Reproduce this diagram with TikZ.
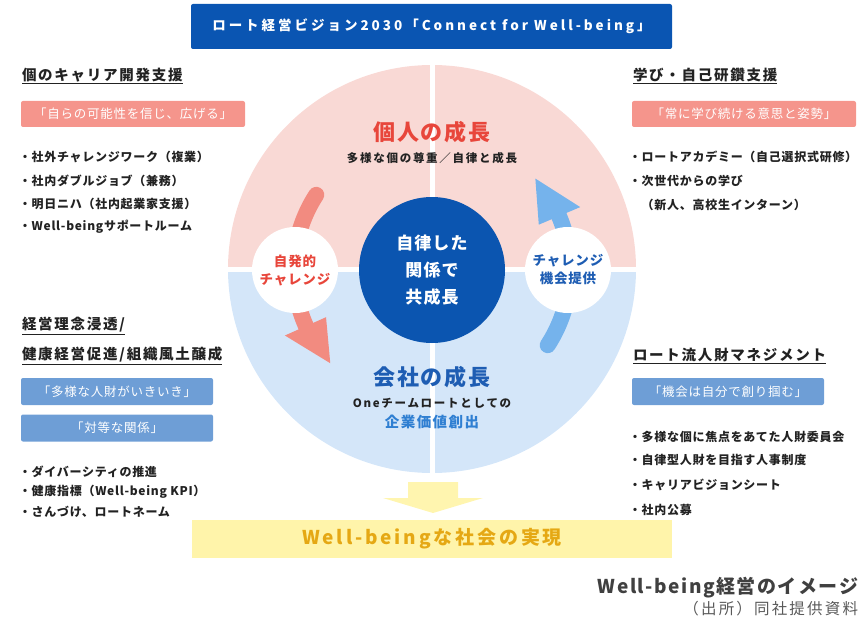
\documentclass[tikz,border=0pt]{standalone}
\usepackage{fontspec}
\setmainfont{Noto Sans CJK JP}
\newcommand\ls[1]{\addfontfeatures{LetterSpace=#1}}
\definecolor{bannerblue}{HTML}{0A55B2}
\definecolor{pinkq}{HTML}{F9D9D5}
\definecolor{blueq}{HTML}{D4E6F9}
\definecolor{coreblue}{HTML}{0B55B0}
\definecolor{redT}{HTML}{E8463B}
\definecolor{salmonA}{HTML}{F28B80}
\definecolor{blueA}{HTML}{75B3EC}
\definecolor{pinkbox}{HTML}{F5958C}
\definecolor{bluebox}{HTML}{6E9ED6}
\definecolor{yellowA}{HTML}{FFF5AF}
\definecolor{yellowB}{HTML}{FFF4AA}
\definecolor{goldT}{HTML}{E5A814}
\definecolor{blueT}{HTML}{1E5DB3}
\definecolor{blueT2}{HTML}{2F7FD2}
\definecolor{txt}{HTML}{222222}
\definecolor{grayT}{HTML}{404040}
\definecolor{grayS}{HTML}{595959}
\begin{document}
\begin{tikzpicture}[x=1pt,y=-1pt,
  every node/.style={inner sep=0pt, outer sep=0pt},
  head/.style={anchor=west, text=txt, font=\fontsize{14.5}{16}\selectfont\bfseries\ls{12}},
  bul/.style={anchor=west, text=txt, font=\fontsize{12}{14}\selectfont\bfseries\ls{6}},
  pbox/.style={fill=pinkbox, rounded corners=2pt, text=white, minimum width=224pt, minimum height=26pt, font=\fontsize{12.5}{14}\selectfont\ls{6}},
  bbox/.style={fill=bluebox, rounded corners=2pt, text=white, minimum width=192pt, minimum height=27pt, font=\fontsize{12.5}{14}\selectfont\ls{6}},
  uline/.style={line width=0.8pt, draw=txt},
  bubble/.style={circle, fill=white, minimum size=86pt, align=center, font=\fontsize{13.5}{18}\selectfont\bfseries\ls{6}},
]
\useasboundingbox (0,0) rectangle (867,623);

% banner
\node[fill=bannerblue, rounded corners=2pt, minimum width=481pt, minimum height=45pt, text=white,
  font=\fontsize{13.5}{15}\selectfont\bfseries\ls{22}] (banner) at (431.5,26.5) {ロート経営ビジョン2030「Connect for Well-being」};

% big circle quadrants
\begin{scope}
  \clip (220,50) rectangle (645,269);
  \fill[pinkq] (432,269) circle (204pt);
\end{scope}
\begin{scope}
  \clip (220,269) rectangle (645,480);
  \fill[blueq] (432,269) circle (204pt);
\end{scope}
\draw[white, line width=5pt] (432,60) -- (432,478);
\draw[white, line width=5pt] (224,269.5) -- (640,269.5);

% curved arrows
\draw[salmonA, line width=16pt, line cap=round] plot[domain=147:205, samples=40] ({432+138*cos(\x)}, {270-138*sin(\x)});
\fill[salmonA] ({432+116*cos(204)},{270-116*sin(204)}) -- ({432+161*cos(204)},{270-161*sin(204)}) -- ({432+138*cos(222.5)},{270-138*sin(222.5)}) -- cycle;
\draw[blueA, line width=16pt, line cap=round] plot[domain=-33:24, samples=40] ({432+138*cos(\x)}, {270-138*sin(\x)});
\fill[blueA] ({432+116*cos(23)},{270-116*sin(23)}) -- ({432+161*cos(23)},{270-161*sin(23)}) -- ({432+138*cos(41.5)},{270-138*sin(41.5)}) -- cycle;

% bubbles and core
\node[bubble, text=redT] (lc) at (295,270) {自発的\\チャレンジ};
\node[bubble, text=blueT] (rc) at (568,270) {チャレンジ\\機会提供};
\node[circle, fill=coreblue, minimum size=146pt, text=white, align=center,
  font=\fontsize{17}{27}\selectfont\bfseries\ls{6}] (core) at (432,270) {自律した\\関係で\\共成長};

% titles in circle
\node[text=redT, font=\fontsize{22}{24}\selectfont\bfseries\ls{9}] (t1) at (432,132) {個人の成長};
\node[text=txt, font=\fontsize{11.5}{13}\selectfont\bfseries\ls{15}] (t1s) at (432,158) {多様な個の尊重／自律と成長};
\node[text=blueT, font=\fontsize{22}{24}\selectfont\bfseries\ls{9}] (t2) at (432,377) {会社の成長};
\node[text=txt, font=\fontsize{11.5}{13}\selectfont\bfseries\ls{15}] (t2s) at (432,403) {Oneチームロートとしての};
\node[text=blueT2, font=\fontsize{14.5}{16}\selectfont\bfseries\ls{10}] (t2b) at (432,422) {企業価値創出};

% yellow arrow and goal
\fill[yellowA] (408,482) -- (458,482) -- (458,498) -- (483,498) -- (433,513) -- (383,498) -- (408,498) -- cycle;
\node[fill=yellowB, minimum width=480pt, minimum height=38pt, text=goldT,
  font=\fontsize{19}{21}\selectfont\bfseries\ls{15}] (goal) at (432,539) {Well-beingな社会の実現};

% left top
\node[head] (h1) at (22,75) {個のキャリア開発支援};
\draw[uline] ([yshift=-1.5pt]h1.south west) -- ([yshift=-1.5pt]h1.south east);
\node[pbox] (p1) at (133,114) {「自らの可能性を信じ、広げる」};
\node[bul] (l1) at (19,157) {・社外チャレンジワーク（複業）};
\node[bul] (l2) at (19,181) {・社内ダブルジョブ（兼務）};
\node[bul] (l3) at (19,204) {・明日ニハ（社内起業家支援）};
\node[bul] (l4) at (19,227) {・Well-beingサポートルーム};

% right top
\node[head] (h2) at (633,75) {学び・自己研鑽支援};
\draw[uline] ([yshift=-1.5pt]h2.south west) -- ([yshift=-1.5pt]h2.south east);
\node[pbox] (p2) at (744,114) {「常に学び続ける意思と姿勢」};
\node[bul] (r1) at (629,157) {・ロートアカデミー（自己選択式研修）};
\node[bul] (r2) at (629,181) {・次世代からの学び};
\node[bul] (r3) at (629,205) {　（新人、高校生インターン）};

% left bottom
\node[head] (h3) at (22,325) {経営理念浸透/};
\draw[uline] ([yshift=-1.5pt]h3.south west) -- ([yshift=-1.5pt]h3.south east);
\node[head] (h4) at (22,355) {健康経営促進/組織風土醸成};
\draw[uline] ([yshift=-1.5pt]h4.south west) -- ([yshift=-1.5pt]h4.south east);
\node[bbox] (b1) at (117,391.5) {「多様な人財がいきいき」};
\node[bbox] (b2) at (117,428) {「対等な関係」};
\node[bul] (m1) at (19,472) {・ダイバーシティの推進};
\node[bul] (m2) at (19,492) {・健康指標（Well-being KPI）};
\node[bul] (m3) at (19,512) {・さんづけ、ロートネーム};

% right bottom
\node[head] (h5) at (633,355) {ロート流人財マネジメント};
\draw[uline] ([yshift=-1.5pt]h5.south west) -- ([yshift=-1.5pt]h5.south east);
\node[bbox] (b3) at (728,391.5) {「機会は自分で創り掴む」};
\node[bul] (n1) at (629,437) {・多様な個に焦点をあてた人財委員会};
\node[bul] (n2) at (629,460) {・自律型人財を目指す人事制度};
\node[bul] (n3) at (629,485) {・キャリアビジョンシート};
\node[bul] (n4) at (629,510) {・社内公募};

% caption
\node[anchor=east, text=grayT, font=\fontsize{19}{21}\selectfont\bfseries\ls{8}] (cap) at (858,588) {Well-being経営のイメージ};
\node[anchor=east, text=grayS, font=\fontsize{15.5}{17}\selectfont\ls{14}] (src) at (858,609) {（出所）同社提供資料};
\end{tikzpicture}
\end{document}
